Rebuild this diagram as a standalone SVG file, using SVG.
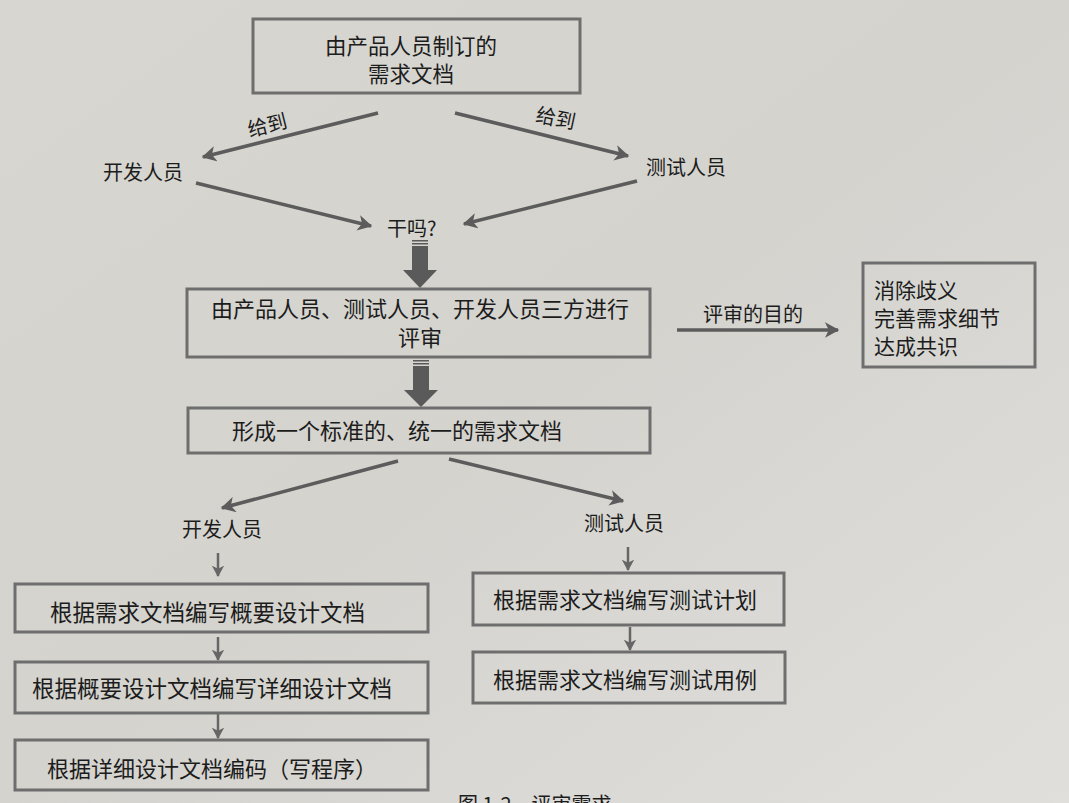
<svg xmlns="http://www.w3.org/2000/svg" width="1069" height="803" viewBox="0 0 1069 803">
<defs>
<linearGradient id="bg" x1="0" y1="0" x2="1" y2="1">
<stop offset="0" stop-color="#d7d6d1"/>
<stop offset="0.5" stop-color="#d4d3ce"/>
<stop offset="1" stop-color="#e0dfdc"/>
</linearGradient>
<marker id="ah" viewBox="0 0 12 12" refX="10" refY="6" markerWidth="4.5" markerHeight="4.5" orient="auto" markerUnits="strokeWidth">
<path d="M0,0 L11,6 L0,12 L3,6 z" fill="#5c5c5c"/>
</marker>
<marker id="sh" viewBox="0 0 12 12" refX="10" refY="6" markerWidth="5" markerHeight="5" orient="auto" markerUnits="strokeWidth">
<path d="M0,0 L11,6 L0,12 L3,6 z" fill="#666"/>
</marker>
<style>
.box{fill:none;stroke:#6e6e6e;stroke-width:3}
.t{font-family:"Noto Sans CJK SC","Noto Sans",sans-serif;fill:#1c1c1c;font-size:22px;dominant-baseline:central}
.c{text-anchor:middle}
.lbl{font-size:20px}
.ml{font-size:21px}
.ln{fill:none;stroke:#5c5c5c;stroke-width:3.5;marker-end:url(#ah)}
.sm{fill:none;stroke:#666;stroke-width:2.5;marker-end:url(#sh)}
.big{fill:#5a5a5a}
</style>
</defs>
<rect width="1069" height="803" fill="url(#bg)"/>

<g id="connectors">
<line class="ln" x1="378" y1="113" x2="203" y2="157"/>
<line class="ln" x1="455" y1="113" x2="628" y2="156"/>
<line class="ln" x1="196" y1="183" x2="371" y2="226"/>
<line class="ln" x1="637" y1="181" x2="464" y2="224"/>
<line class="ln" x1="677" y1="330" x2="838" y2="330"/>
<line class="ln" x1="398" y1="461" x2="222" y2="508"/>
<line class="ln" x1="449" y1="459" x2="623" y2="501"/>
<g id="bigArrow1" class="big">
<rect x="412" y="240" width="16" height="1.5"/>
<rect x="412" y="243" width="16" height="1.5"/>
<rect x="412" y="246" width="16" height="25"/>
<polygon points="403,270 437,270 420,288"/>
</g>
<g id="bigArrow2" class="big">
<rect x="413" y="360" width="16" height="1.5"/>
<rect x="413" y="363" width="16" height="1.5"/>
<rect x="413" y="366" width="16" height="25"/>
<polygon points="404,390 438,390 421,407"/>
</g>
<line class="sm" x1="218" y1="553" x2="218" y2="576"/>
<line class="sm" x1="218" y1="637" x2="218" y2="660"/>
<line class="sm" x1="218" y1="714" x2="218" y2="738"/>
<line class="sm" x1="628" y1="547" x2="628" y2="570"/>
<line class="sm" x1="630" y1="627" x2="630" y2="650"/>
<text class="t lbl c" x="267" y="124" transform="rotate(-14 267 124)">给到</text>
<text class="t lbl c" x="556" y="117" transform="rotate(12 556 117)">给到</text>
<text class="t lbl c" x="753" y="313">评审的目的</text>
</g>

<g id="n_req">
<rect class="box" x="253" y="19" width="327" height="74"/>
<text class="t c" x="411" y="44" style="font-size:21.5px">由产品人员制订的</text>
<text class="t c" x="411" y="72" style="font-size:21.5px">需求文档</text>
</g>
<g id="n_dev1"><text class="t lbl" x="103" y="171">开发人员</text></g>
<g id="n_test1"><text class="t lbl" x="646" y="166">测试人员</text></g>
<g id="n_why"><text class="t lbl" x="387" y="227">干吗?</text></g>
<g id="n_review">
<rect class="box" x="187" y="289" width="463" height="68"/>
<text class="t c" x="420" y="307">由产品人员、测试人员、开发人员三方进行</text>
<text class="t c" x="420" y="336">评审</text>
</g>
<g id="n_goal">
<rect class="box" x="863" y="263" width="172" height="104"/>
<text class="t ml" x="874" y="289">消除歧义</text>
<text class="t ml" x="874" y="317">完善需求细节</text>
<text class="t ml" x="874" y="345">达成共识</text>
</g>
<g id="n_unified">
<rect class="box" x="188" y="408" width="462" height="45"/>
<text class="t" x="232" y="429">形成一个标准的、统一的需求文档</text>
</g>
<g id="n_dev2"><text class="t lbl" x="182" y="528">开发人员</text></g>
<g id="n_test2"><text class="t lbl" x="584" y="522">测试人员</text></g>
<g id="n_d1">
<rect class="box" x="15" y="584" width="413" height="48"/>
<text class="t" x="50" y="611" style="font-size:22.5px">根据需求文档编写概要设计文档</text>
</g>
<g id="n_d2">
<rect class="box" x="15" y="662" width="413" height="51"/>
<text class="t" x="32" y="687" style="font-size:22.5px">根据概要设计文档编写详细设计文档</text>
</g>
<g id="n_d3">
<rect class="box" x="15" y="740" width="413" height="50"/>
<text class="t" x="47" y="767">根据详细设计文档编码（写程序）</text>
</g>
<g id="n_t1">
<rect class="box" x="473" y="573" width="311" height="52"/>
<text class="t" x="493" y="598">根据需求文档编写测试计划</text>
</g>
<g id="n_t2">
<rect class="box" x="473" y="652" width="312" height="51"/>
<text class="t" x="493" y="678">根据需求文档编写测试用例</text>
</g>
<text class="t lbl" x="458" y="812" style="dominant-baseline:auto">图 1-2　评审需求</text>
</svg>
